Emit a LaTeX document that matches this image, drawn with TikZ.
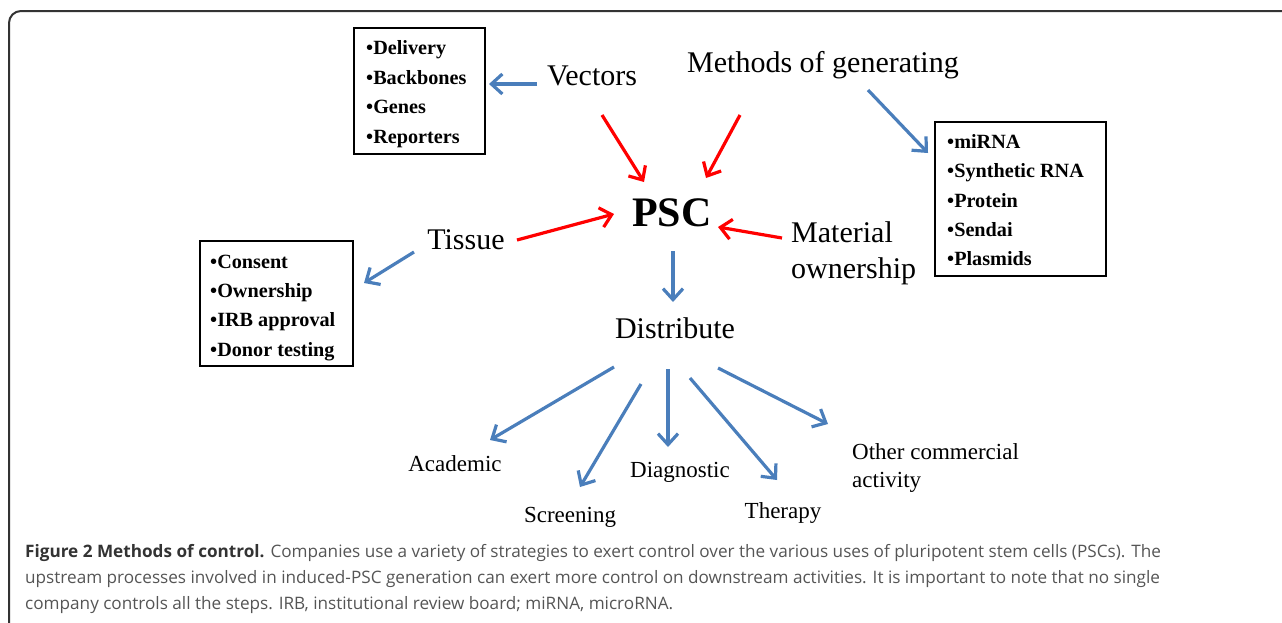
\documentclass[tikz,border=0pt]{standalone}
\usepackage{fontspec}
\setmainfont{Liberation Serif}
\newfontfamily\capfont{Open Sans}
\usetikzlibrary{arrows.meta}
\definecolor{flowblue}{RGB}{74,126,187}
\definecolor{flowred}{RGB}{255,0,0}
\definecolor{framegray}{RGB}{51,51,51}
\definecolor{captext}{RGB}{85,85,85}
\tikzset{
  lbl/.style={inner sep=0pt, font=\fontsize{30}{34}\selectfont},
  sublbl/.style={inner sep=0pt, font=\fontsize{23}{27}\selectfont},
  listbox/.style={draw=black, line width=1.3pt},
  item/.style={inner sep=0pt, anchor=base west, font=\fontsize{20.2}{22}\selectfont\bfseries},
  bluearrow/.style={draw=flowblue, line width=3.2pt, -{Straight Barb[length=11pt,width=20pt]}},
  redarrow/.style={draw=flowred, line width=3.2pt, -{Straight Barb[length=11pt,width=20pt]}},
  capline/.style={inner sep=0pt, anchor=base west, text=captext, font=\capfont\fontsize{17.15}{20}\selectfont},
}
\begin{document}
\begin{tikzpicture}[x=1pt,y=-1pt]
\useasboundingbox (0,0) rectangle (1282,622);
% outer frame, running off the right and bottom edges
\begin{scope}
\clip (0,0) rectangle (1282,622);
\draw[framegray, line width=2pt, rounded corners=12pt] (9,11) rectangle (1300,640);
\end{scope}

% main labels
\node[lbl] (meth) at (823,65) {Methods of generating};
\node[lbl] (vec) at (592,76) {Vectors};
\node[inner sep=0pt, font=\fontsize{42}{46}\selectfont\bfseries] (psc) at (672,213) {PSC};
\node[lbl] (tis) at (466,240) {Tissue};
\node[lbl, anchor=west, align=left, font=\fontsize{30}{36}\selectfont] (mat) at (791,253) {Material\\ownership};
\node[lbl] (dist) at (675,328) {Distribute};

% uses
\node[sublbl] (acad) at (455,464) {Academic};
\node[sublbl] (scr) at (570,517) {Screening};
\node[sublbl] (diag) at (680,472) {Diagnostic};
\node[sublbl] (ther) at (783,513) {Therapy};
\node[sublbl, anchor=west, align=left, font=\fontsize{23}{28}\selectfont] (oth) at (852,468) {Other commercial\\activity};

% list boxes
\draw[listbox] (354,28) rectangle (485,154);
\node[item] (v1) at (366,54) {•Delivery};
\node[item] (v2) at (366,84) {•Backbones};
\node[item] (v3) at (366,113) {•Genes};
\node[item] (v4) at (366,143) {•Reporters};
\coordinate (vbox) at (489,84);

\draw[listbox] (935,122) rectangle (1106,276);
\node[item] (m1) at (947,148) {•miRNA};
\node[item] (m2) at (947,177) {•Synthetic RNA};
\node[item] (m3) at (947,207) {•Protein};
\node[item] (m4) at (947,236) {•Sendai};
\node[item] (m5) at (947,265) {•Plasmids};
\coordinate (mbox) at (928,153);

\draw[listbox] (200,241) rectangle (353,366);
\node[item] (t1) at (210,268) {•Consent};
\node[item] (t2) at (210,297) {•Ownership};
\node[item] (t3) at (210,326) {•IRB approval};
\node[item] (t4) at (210,356) {•Donor testing};
\coordinate (tbox) at (364,283);

% connector end points
\coordinate (vecA) at (537,84);
\coordinate (methA) at (868,90);
\coordinate (tisA) at (414,252);
\coordinate (vecR) at (602,115);
\coordinate (methR) at (740,115);
\coordinate (pscV) at (644,182);
\coordinate (pscM) at (706,178);
\coordinate (tisR) at (517,240);
\coordinate (pscT) at (614,214);
\coordinate (matR) at (782,238);
\coordinate (pscR) at (718,227);
\coordinate (pscD) at (673,251);
\coordinate (distT) at (673,302);
\coordinate (d1) at (614,367);
\coordinate (d2) at (641,384);
\coordinate (d3) at (668,369);
\coordinate (d4) at (690,378);
\coordinate (d5) at (718,368);
\coordinate (acadT) at (490,440);
\coordinate (scrT) at (580,487);
\coordinate (diagT) at (668,447);
\coordinate (therT) at (777,480);
\coordinate (othT) at (828,424);

% blue arrows
\draw[bluearrow] (vecA) -- (vbox);
\draw[bluearrow] (methA) -- (mbox);
\draw[bluearrow] (tisA) -- (tbox);
\draw[bluearrow] (pscD) -- (distT);
\draw[bluearrow] (d1) -- (acadT);
\draw[bluearrow] (d2) -- (scrT);
\draw[bluearrow] (d3) -- (diagT);
\draw[bluearrow] (d4) -- (therT);
\draw[bluearrow] (d5) -- (othT);

% red arrows
\draw[redarrow] (vecR) -- (pscV);
\draw[redarrow] (methR) -- (pscM);
\draw[redarrow] (tisR) -- (pscT);
\draw[redarrow] (matR) -- (pscR);

% caption
\node[capline] (c1) at (25,557) {{\color{black!80}\bfseries Figure 2 Methods of control.} Companies use a variety of strategies to exert control over the various uses of pluripotent stem cells (PSCs). The};
\node[capline] (c2) at (25,583) {upstream processes involved in induced-PSC generation can exert more control on downstream activities. It is important to note that no single};
\node[capline] (c3) at (25,609) {company controls all the steps. IRB, institutional review board; miRNA, microRNA.};
\end{tikzpicture}
\end{document}
